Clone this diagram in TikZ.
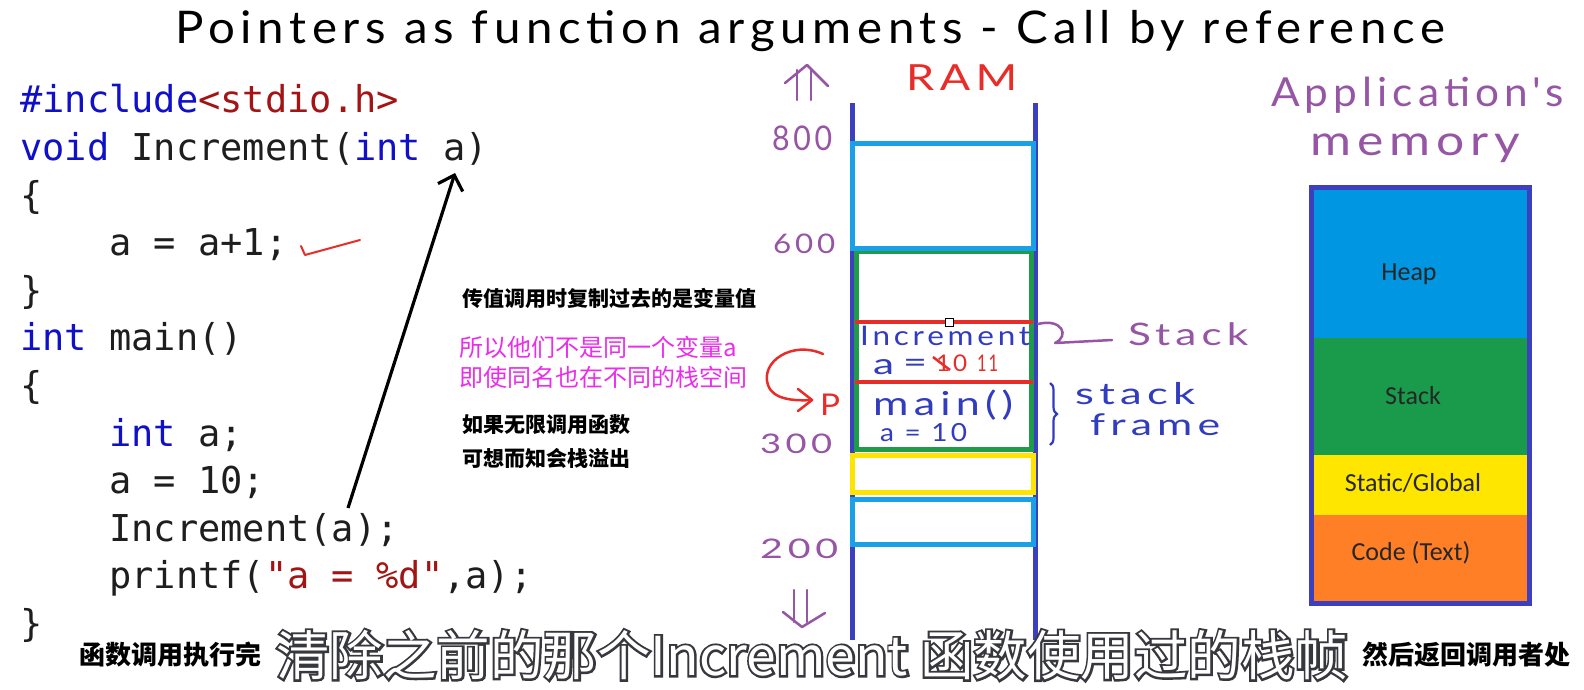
\documentclass[tikz,border=0pt]{standalone}
\usepackage{fontspec}
\usepackage{graphicx}
\usetikzlibrary{arrows.meta,decorations.pathreplacing}
\newfontfamily\codefont{DejaVu Sans Mono}
\newfontfamily\cjk{Noto Sans CJK SC}
\newfontfamily\cjkol{Noto Sans CJK SC}[FakeBold=8]
\newfontfamily\hand{Lato}[LetterSpace=12]
\newfontfamily\calib{Carlito}
\definecolor{kw}{RGB}{16,16,200}
\definecolor{strc}{RGB}{163,21,21}
\definecolor{codetxt}{RGB}{30,30,30}
\definecolor{purp}{RGB}{150,85,165}
\definecolor{ramblue}{RGB}{60,64,190}
\definecolor{lblue}{RGB}{25,160,230}
\definecolor{grn}{RGB}{30,155,75}
\definecolor{rred}{RGB}{232,45,40}
\definecolor{yel}{RGB}{255,228,0}
\definecolor{hblue}{RGB}{50,60,190}
\definecolor{heapc}{RGB}{0,150,225}
\definecolor{stkc}{RGB}{25,155,75}
\definecolor{statc}{RGB}{255,230,0}
\definecolor{codec}{RGB}{255,127,39}
\definecolor{mag}{RGB}{235,45,235}
\definecolor{outl}{RGB}{55,55,62}
\newcommand\hw[3]{\resizebox{#1}{\height}{\hand\fontsize{#2}{#2}\selectfont #3}}
\begin{document}
\begin{tikzpicture}[x=1pt,y=-1pt,
  codeline/.style={anchor=base west, inner sep=0pt, text=codetxt, font=\codefont\fontsize{37}{37}\selectfont},
  handlbl/.style={anchor=base west, inner sep=0pt},
  ramline/.style={ramblue, line width=5pt},
  membox/.style={line width=5pt},
  memlabel/.style={anchor=base, inner sep=0pt, text=black!85, font=\calib\fontsize{26}{26}\selectfont},
  cjkb/.style={anchor=west, inner sep=0pt, text=black, font=\cjk\bfseries\fontsize{21}{21}\selectfont},
  cjkm/.style={anchor=west, inner sep=0pt, text=mag, font=\cjk\fontsize{24}{24}\selectfont},
  cjks/.style={anchor=west, inner sep=0pt, text=black, font=\cjk\bfseries\fontsize{26}{26}\selectfont},
  bigsub/.style={anchor=west, inner sep=0pt, font=\cjk\fontsize{53.5}{53.5}\selectfont},
  bigout/.style={anchor=west, inner sep=0pt, font=\cjkol\fontsize{53.5}{53.5}\selectfont},
  hwline/.style={line width=2.5pt, line cap=round, line join=round}]
\useasboundingbox (0,0) rectangle (1584,689);
\fill[white] (0,0) rectangle (1584,689);

% title
\node[handlbl, text=black] (title) at (175,43) {\hw{1270pt}{45}{Pointers as function arguments - Call by reference}};

% code
\node[codeline] (c1) at (20,112.5) {\textcolor{kw}{\#include}\textcolor{strc}{<stdio.h>}};
\node[codeline] (c2) at (20,160) {\textcolor{kw}{void} Increment(\textcolor{kw}{int} a)};
\node[codeline] (c3) at (20,208) {\{};
\node[codeline] (c4) at (109,255.5) {a = a+1;};
\node[codeline] (c5) at (20,303) {\}};
\node[codeline] (c6) at (20,350.5) {\textcolor{kw}{int} main()};
\node[codeline] (c7) at (20,398) {\{};
\node[codeline] (c8) at (109,446) {\textcolor{kw}{int} a;};
\node[codeline] (c9) at (109,493) {a = 10;};
\node[codeline] (c10) at (109,541) {Increment(a);};
\node[codeline] (c11) at (109,588) {printf(\textcolor{strc}{"a = \%d"},a);};
\node[codeline] (c12) at (20,636) {\}};

% check mark
\draw[rred, line width=2pt, line cap=round, line join=round] (301,246) -- (305,255) -- (360,240);

% arrow from argument to parameter
\coordinate (argA) at (348,508);
\coordinate (parA) at (455,173);
\draw[black, line width=3.2pt, -{Straight Barb[length=13pt,width=26pt]}] (argA) -- (parA);

% chinese notes
\node[cjkb] (n1) at (462,298) {传值调用时复制过去的是变量值};
\node[cjkm] (n2) at (459,347) {所以他们不是同一个变量a};
\node[cjkm] (n3) at (459,377) {即使同名也在不同的栈空间};
\node[cjkb] (n4) at (462,425) {如果无限调用函数};
\node[cjkb] (n5) at (462,458) {可想而知会栈溢出};

% RAM column
\draw[ramline] (852,103) -- (852,640);
\draw[ramline] (1035,103) -- (1035,640);
\draw[grn, membox] (856,251) rectangle (1031,449);
\draw[lblue, membox] (852,143) rectangle (1033,248);
\draw[yel, membox] (852,455) rectangle (1033,492);
\draw[lblue, membox] (852,499) rectangle (1033,544);
\draw[rred, line width=4pt] (855,322) -- (1033,322);
\draw[rred, line width=4pt] (855,382) -- (1033,382);
\draw[black, fill=white, line width=0.8pt] (945,318) rectangle (953,326);

\node[handlbl, text=rred] (ram) at (906,90) {\hw{111pt}{36}{RAM}};

% addresses
\node[handlbl, text=purp] (a800) at (772,150) {\hw{60pt}{34}{800}};
\node[handlbl, text=purp] (a600) at (773,253) {\hw{62pt}{27}{600}};
\node[handlbl, text=purp] (a300) at (760,453) {\hw{72pt}{27}{300}};
\node[handlbl, text=purp] (a200) at (760,558) {\hw{78pt}{27}{200}};
\draw[purp, hwline] (797,70) -- (797,100);
\draw[purp, hwline] (811,70) -- (811,100);
\draw[purp, hwline] (785,83) -- (807,65) -- (828,86);
\draw[purp, hwline] (794,590) -- (794,622);
\draw[purp, hwline] (807,590) -- (807,622);
\draw[purp, hwline] (783,612) -- (802,627) -- (825,613);

% frame contents
\node[handlbl, text=hblue] (inc) at (860,345) {\hw{170pt}{27}{Increment}};
\node[handlbl, text=hblue] (ia) at (873,374) {\hw{21pt}{29}{a}};
\node[handlbl, text=hblue] (ieq) at (903,372) {\hw{24pt}{29}{=}};
\node[handlbl, text=rred] (i10) at (936,371) {\hw{31pt}{23}{10}};
\node[handlbl, text=rred] (i11) at (977,371) {\hw{21pt}{23}{11}};
\draw[rred, line width=2.5pt] (933,357) -- (950,370);
\node[handlbl, text=hblue] (mn) at (873,415) {\hw{140pt}{33}{main()}};
\node[handlbl, text=hblue] (ma) at (880,441) {\hw{87pt}{25}{a = 10}};

% red P arrow
\draw[rred, hwline] (823,354) .. controls (792,340) and (760,362) .. (768,385) .. controls (773,400) and (795,401) .. (812,400);
\draw[rred, hwline] (798,389) -- (812,400) -- (798,411);
\node[handlbl, text=rred] (pp) at (820,415) {\hw{20pt}{30}{P}};

% stack labels
\draw[purp, hwline] (1038,324) .. controls (1062,318) and (1070,336) .. (1055,343) -- (1112,340);
\node[handlbl, text=purp] (stk) at (1128,345) {\hw{120pt}{31}{Stack}};
\draw[hblue, line width=2.2pt, decorate, decoration={brace, amplitude=7pt}] (1050,383) -- (1050,445);
\node[handlbl, text=hblue] (sf1) at (1075,404) {\hw{120pt}{30}{stack}};
\node[handlbl, text=hblue] (sf2) at (1090,435) {\hw{130pt}{30}{frame}};

% application's memory
\node[handlbl, text=purp] (app) at (1271,106) {\hw{293pt}{40}{Application's}};
\node[handlbl, text=purp] (mem) at (1310,155) {\hw{210pt}{42}{memory}};
\fill[heapc] (1311,187) rectangle (1529,338);
\fill[stkc] (1311,338) rectangle (1529,455);
\fill[statc] (1311,455) rectangle (1529,515);
\fill[codec] (1311,515) rectangle (1529,603);
\draw[ramblue, membox] (1311,187) rectangle (1529,603);
\node[memlabel] (heap) at (1409,280) {Heap};
\node[memlabel] (stack) at (1413,404) {Stack};
\node[memlabel] (static) at (1413,491.5) {Static/Global};
\node[memlabel] (codeseg) at (1411,560) {Code (Text)};

% subtitles
\node[cjks] (b1) at (79,655) {函数调用执行完};
\node[cjks] (b3) at (1362,655) {然后返回调用者处};
\node[bigout, text=outl] (bigo) at (276,655) {清除之前的那个Increment 函数使用过的栈帧};
\node[bigsub, text=white] (big) at (276,655) {清除之前的那个Increment 函数使用过的栈帧};
\end{tikzpicture}
\end{document}
